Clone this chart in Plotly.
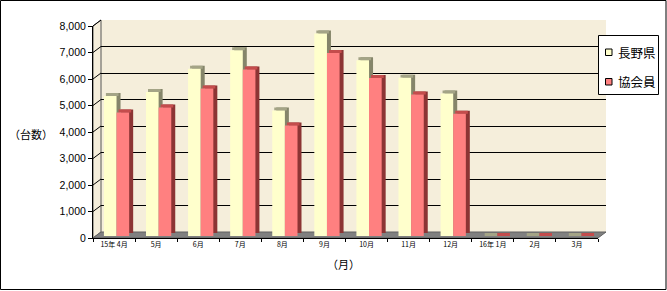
import plotly.graph_objects as go

# ---------------- data ----------------
months = ["15年 4月", "5月", "6月", "7月", "8月", "9月", "10月", "11月", "12月", "16年 1月", "2月", "3月"]
nagano = [5280, 5430, 6310, 7010, 4740, 7640, 6630, 5970, 5380, 0, 0, 0]
kyokai = [4660, 4850, 5570, 6280, 4170, 6910, 5960, 5340, 4610, 0, 0, 0]
y_ticks = [0, 1000, 2000, 3000, 4000, 5000, 6000, 7000, 8000]
series_names = ["長野県", "協会員"]
y_title = "（台数）"
x_title = "（月）"

# ---------------- geometry / style ----------------
W, H = 667, 291
L, T = 93, 20            # plot-area origin (px)
PW, PH = 513, 218        # plot-area size (px)
FW, FH = 505, 212        # front plane size (px)
YMAX = 8000
BACK = (8, 6)            # back wall offset (dx right, dy up)
FACE = (2.5, 2)
CAP = (4.5, 2)
SIDE = (6.5, 5)
CAP_H = 3 * YMAX / FH    # 3px thick top face, in value units

FACE_COL = ["#FFFFCC", "#FF8080"]
CAP_COL = ["#A4A486", "#C44C4C"]
SIDE_COL = ["#85856A", "#8C3434"]
WALL = "#F5EEDB"
FLOOR = "#808080"
FONT_CJK = "Noto Sans CJK JP"


def px(x):
    return (x - L) / PW


def py(y):
    return (T + PH - y) / PH


def dom(off):
    dx, dy = off
    return [dx / PW, (FW + dx) / PW], [dy / PH, (FH + dy) / PH]


fig = go.Figure()
planes = {"": BACK, "2": SIDE, "3": CAP, "4": FACE, "5": (0, 0)}

layout_axes = {}
for k, off in planes.items():
    xd, yd = dom(off)
    xname, yname = "xaxis" + k, "yaxis" + k
    layout_axes[xname] = dict(domain=xd, range=[-0.5, len(months) - 0.5], anchor="y" + k,
                              visible=False, type="category", categoryorder="array",
                              categoryarray=months, fixedrange=True)
    layout_axes[yname] = dict(domain=yd, range=[0, YMAX], anchor="x" + k, visible=False,
                              fixedrange=True)

# back wall gridlines
layout_axes["yaxis"].update(visible=True, showgrid=True, gridcolor="#000000", gridwidth=1,
                            tickvals=y_ticks, showticklabels=False, ticks="", showline=False,
                            zeroline=False)
# front axes (labels)
layout_axes["xaxis5"].update(visible=True, showline=True, linecolor="#000000", linewidth=1,
                             ticks="outside", ticklen=3, tickcolor="#000000", tickson="boundaries",
                             tickfont=dict(family=FONT_CJK, size=7, color="#000000"),
                             showgrid=False, zeroline=False, tickangle=0)
layout_axes["yaxis5"].update(visible=True, showline=True, linecolor="#000000", linewidth=1,
                             ticks="outside", ticklen=4, tickcolor="#000000",
                             tickvals=y_ticks, tickformat=",",
                             tickfont=dict(family="Liberation Sans", size=10.5, color="#000000"),
                             showgrid=False, zeroline=False)

for i, vals in enumerate([nagano, kyokai]):
    off = -0.3 if i == 0 else 0.0
    # side (depth) face
    fig.add_trace(go.Bar(x=months, y=vals, width=0.3, offset=off, marker_color=SIDE_COL[i],
                         marker_line_width=0, xaxis="x2", yaxis="y2", showlegend=False,
                         hoverinfo="skip"))
for i, vals in enumerate([nagano, kyokai]):
    off = -0.3 if i == 0 else 0.0
    fig.add_trace(go.Bar(x=months, y=[CAP_H] * len(vals), base=vals, width=0.3, offset=off,
                         marker_color=CAP_COL[i], marker_line_width=0, xaxis="x3", yaxis="y3",
                         showlegend=False, hoverinfo="skip"))
for i, vals in enumerate([nagano, kyokai]):
    off = -0.3 if i == 0 else 0.0
    fig.add_trace(go.Bar(x=months, y=vals, width=0.3, offset=off, marker_color=FACE_COL[i],
                         marker_line_width=0, xaxis="x4", yaxis="y4", name=series_names[i],
                         showlegend=False))
# anchor traces for the axes without bars
fig.add_trace(go.Scatter(x=months, y=[None] * len(months), xaxis="x5", yaxis="y5",
                         showlegend=False, hoverinfo="skip"))
fig.add_trace(go.Scatter(x=[months[0]], y=[None], xaxis="x", yaxis="y",
                         showlegend=False, hoverinfo="skip"))

shapes = []
s = FH / YMAX
bx, by = BACK
x0f, x1f, y0f, ytf = L, L + FW, T + PH, T + PH - FH
# back wall
shapes.append(dict(type="rect", xref="paper", yref="paper", layer="below",
                   x0=px(x0f + bx), x1=px(x1f + bx), y0=py(y0f - by), y1=py(ytf - by),
                   fillcolor=WALL, line_width=0))
# side wall
path = "M {} {} L {} {} L {} {} L {} {} Z".format(
    px(x0f), py(y0f), px(x0f + bx), py(y0f - by), px(x0f + bx), py(ytf - by), px(x0f), py(ytf))
shapes.append(dict(type="path", xref="paper", yref="paper", layer="below", path=path,
                   fillcolor=WALL, line=dict(color="#555555", width=1)))
# floor
path = "M {} {} L {} {} L {} {} L {} {} Z".format(
    px(x0f), py(y0f), px(x1f), py(y0f), px(x1f + bx), py(y0f - by), px(x0f + bx), py(y0f - by))
shapes.append(dict(type="path", xref="paper", yref="paper", layer="below", path=path,
                   fillcolor=FLOOR, line=dict(color="#606060", width=1)))
# side wall diagonals
for v in y_ticks[1:]:
    shapes.append(dict(type="line", xref="paper", yref="paper", layer="below",
                       x0=px(x0f), y0=py(y0f - v * s), x1=px(x0f + bx), y1=py(y0f - by - v * s),
                       line=dict(color="#000000", width=1)))
# outer border
shapes.append(dict(type="rect", xref="paper", yref="paper", layer="above",
                   x0=px(0.5), x1=px(666), y0=py(289.5), y1=py(0.5),
                   fillcolor="rgba(0,0,0,0)", line=dict(color="#000000", width=1)))
# manual legend
shapes.append(dict(type="rect", xref="paper", yref="paper", layer="above",
                   x0=px(598.5), x1=px(658.5), y0=py(94.5), y1=py(35.5),
                   fillcolor="#FFFFFF", line=dict(color="#000000", width=1)))
annotations = []
for i, name in enumerate(series_names):
    cy = 52 + 29.5 * i
    shapes.append(dict(type="rect", xref="paper", yref="paper", layer="above",
                       x0=px(605.5), x1=px(612), y0=py(cy + 3.5), y1=py(cy - 3),
                       fillcolor=FACE_COL[i], line=dict(color="#000000", width=1)))
    annotations.append(dict(text=name, xref="paper", yref="paper", x=px(616), y=py(cy),
                            xanchor="left", yanchor="middle", showarrow=False,
                            font=dict(family=FONT_CJK, size=12.5, color="#000000")))

annotations.append(dict(text=y_title, xref="paper", yref="paper", x=px(31), y=py(134),
                        xanchor="center", yanchor="middle", showarrow=False,
                        font=dict(family=FONT_CJK, size=11, color="#000000")))
annotations.append(dict(text=x_title, xref="paper", yref="paper", x=px(343.5), y=py(263.5),
                        xanchor="center", yanchor="middle", showarrow=False,
                        font=dict(family=FONT_CJK, size=11, color="#000000")))

fig.update_layout(
    width=W, height=H, autosize=False,
    margin=dict(l=L, r=W - L - PW, t=T, b=H - T - PH, pad=0),
    paper_bgcolor="#FFFFFF", plot_bgcolor="rgba(0,0,0,0)",
    showlegend=False, shapes=shapes, annotations=annotations,
    **layout_axes,
)

fig.write_html("out.html")
